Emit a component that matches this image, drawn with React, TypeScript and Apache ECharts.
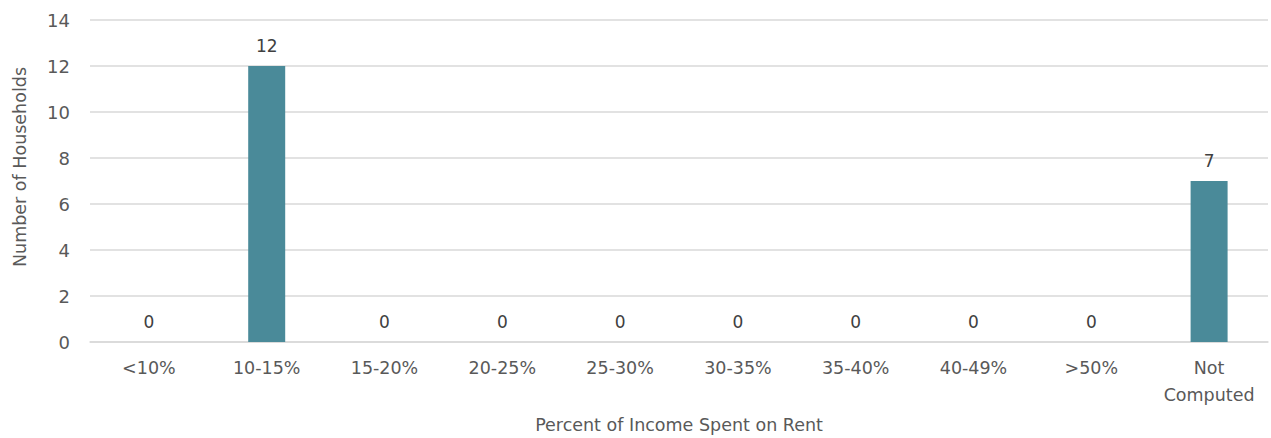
import React, { useEffect, useRef } from "react";
import * as echarts from "echarts";

const categories = ["<10%", "10-15%", "15-20%", "20-25%", "25-30%", "30-35%", "35-40%", "40-49%", ">50%", "Not\nComputed"];
const households = [0, 12, 0, 0, 0, 0, 0, 0, 0, 7];
const yTicks = { min: 0, max: 14, interval: 2 };

const FONT = "'DejaVu Sans', 'Noto Sans', sans-serif";

export default function App() {
  const ref = useRef<HTMLDivElement>(null);
  useEffect(() => {
    document.body.style.margin = "0";
    if (!ref.current) return;
    const chart = echarts.init(ref.current, undefined, { renderer: "svg" });
    chart.setOption({
      animation: false,
      textStyle: { fontFamily: FONT },
      grid: { left: 90, right: 3, top: 20, bottom: 96, outerBoundsMode: "none", containLabel: false },
      xAxis: {
        type: "category",
        data: categories,
        axisLine: { show: true, lineStyle: { color: "#d9d9d9", width: 1.5 } },
        axisTick: { show: false },
        axisLabel: { interval: 0, hideOverlap: false, color: "#595959", fontSize: 17.5, margin: 12, lineHeight: 27, fontFamily: FONT },
        name: "Percent of Income Spent on Rent",
        nameLocation: "middle",
        nameGap: 74,
        nameTextStyle: { color: "#595959", fontSize: 17.5, fontFamily: FONT },
      },
      yAxis: {
        type: "value",
        min: yTicks.min,
        max: yTicks.max,
        interval: yTicks.interval,
        axisLine: { show: false },
        axisTick: { show: false },
        axisLabel: { color: "#595959", fontSize: 18, margin: 20, fontFamily: FONT },
        splitLine: { lineStyle: { color: "#d9d9d9", width: 1.5 } },
        name: "Number of Households",
        nameLocation: "middle",
        nameGap: 61,
        nameRotate: 90,
        nameTextStyle: { color: "#595959", fontSize: 17.5, fontFamily: FONT, padding: [0, 0, 0, 28] },
      },
      series: [
        {
          type: "bar",
          data: households,
          barWidth: 37,
          itemStyle: { color: "#4a8a99" },
          label: {
            show: true,
            position: "top",
            distance: 12,
            color: "#404040",
            fontSize: 17,
            fontFamily: FONT,
          },
        },
      ],
    });
    return () => chart.dispose();
  }, []);
  return <div ref={ref} style={{ width: 1271, height: 438 }} />;
}
